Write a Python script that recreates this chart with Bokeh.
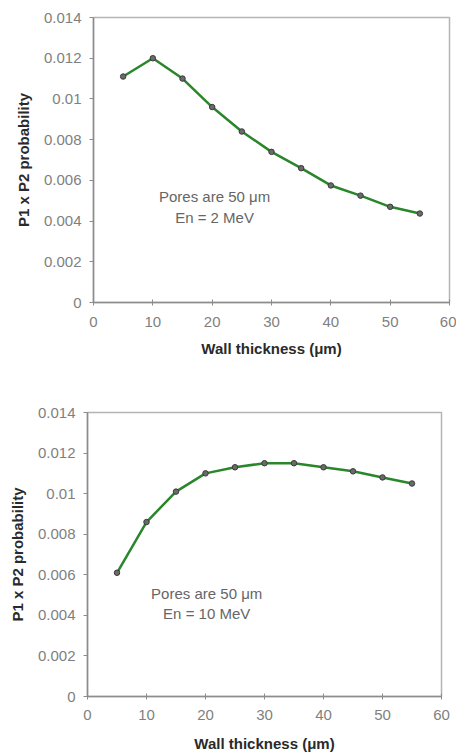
from bokeh.plotting import figure
from bokeh.models import Label, FixedTicker, NumeralTickFormatter, ColumnDataSource
from bokeh.embed import file_html
from bokeh.resources import INLINE

# ---- data ----
thickness = [5, 10, 15, 20, 25, 30, 35, 40, 45, 50, 55]
prob_2mev = [0.0111, 0.0120, 0.0110, 0.0096, 0.0084, 0.0074, 0.0066, 0.00575, 0.00525, 0.0047, 0.00437]
prob_10mev = [0.0061, 0.0086, 0.0101, 0.0110, 0.0113, 0.0115, 0.0115, 0.0113, 0.0111, 0.0108, 0.0105]
x_ticks = [0, 10, 20, 30, 40, 50, 60]
y_ticks = [0, 0.002, 0.004, 0.006, 0.008, 0.010, 0.012, 0.014]
notes_top = ["Pores are 50 \u03bcm", "En = 2 MeV"]
notes_bottom = ["Pores are 50 \u03bcm", "En = 10 MeV"]
note_x = [20.4, 20.2]
note_y_top = [0.0052, 0.0042]
note_y_bottom = [0.0051, 0.0041]

FONT = "Liberation Sans"
GREEN = "#2a862a"
TOTAL_W = 456


def make_fig(yvals, notes, nx, ny, frame_left, frame_w, top_border, frame_h,
             bottom_border, tick_standoff, label_standoff):
    p = figure(frame_width=frame_w, frame_height=frame_h,
               x_range=(0, 60), y_range=(0, 0.014),
               output_backend="svg", toolbar_location=None,
               min_border_left=frame_left, min_border_right=TOTAL_W - frame_left - frame_w,
               min_border_top=top_border, min_border_bottom=bottom_border,
               background_fill_color="white", border_fill_color="white")
    p.outline_line_color = "#b4b4b4"
    p.outline_line_width = 1.5
    p.grid.visible = False

    src = ColumnDataSource(dict(x=thickness, y=yvals))
    p.line("x", "y", source=src, line_color=GREEN, line_width=2.5)
    p.scatter("x", "y", source=src, size=5.5, fill_color="#6a6a6a",
              line_color="#3a3a3a", line_width=1)

    p.xaxis.ticker = FixedTicker(ticks=x_ticks)
    p.yaxis.ticker = FixedTicker(ticks=y_ticks)
    p.yaxis.formatter = NumeralTickFormatter(format="0.[000]")
    for ax in (p.xaxis, p.yaxis):
        ax.axis_line_color = "#8c8c8c"
        ax.axis_line_width = 1.5
        ax.major_tick_line_color = "#8c8c8c"
        ax.minor_tick_line_color = None
        ax.major_label_text_font = FONT
        ax.major_label_text_font_size = "15px"
        ax.major_label_text_color = "#7f7f7f"
        ax.axis_label_text_font = FONT
        ax.axis_label_text_font_size = "15px"
        ax.axis_label_text_font_style = "bold"
        ax.axis_label_text_color = "#2a2a2a"
    p.xaxis.major_tick_in = 3
    p.xaxis.major_tick_out = 3
    p.yaxis.major_tick_in = 0
    p.yaxis.major_tick_out = 4
    p.xaxis.major_label_standoff = tick_standoff
    p.xaxis.axis_label_standoff = label_standoff
    p.yaxis.major_label_standoff = 8
    p.yaxis.axis_label_standoff = 9
    p.xaxis.axis_label = "Wall thickness (\u03bcm)"
    p.yaxis.axis_label = "P1 x P2 probability"

    for txt, yy in zip(notes, ny):
        p.add_layout(Label(x=nx, y=yy, text=txt, text_align="center",
                           text_baseline="middle", text_font=FONT,
                           text_font_size="15px", text_color="#666666"))
    return p


p1 = make_fig(prob_2mev, notes_top, note_x[0], note_y_top,
              93, 356, 17, 285, 73, 11, 10)
p2 = make_fig(prob_10mev, notes_bottom, note_x[1], note_y_bottom,
              87, 354, 37, 284, 60, 10, 12)

open("out.html", "w").write(file_html([p1, p2], INLINE))
